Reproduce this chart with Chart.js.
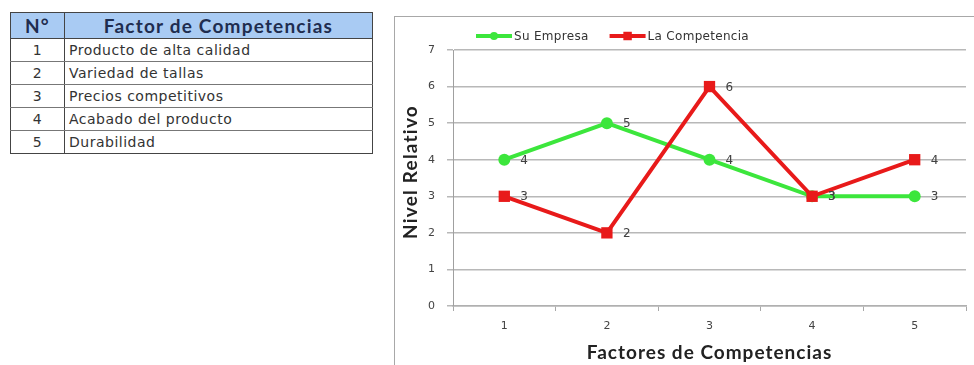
<!DOCTYPE html>
<html>
<head>
<meta charset="utf-8">
<script src="https://cdn.jsdelivr.net/npm/chart.js@4/dist/chart.umd.min.js"></script>
<style>
  html, body { margin: 0; padding: 0; background: #fff; width: 974px; height: 365px; overflow: hidden; }
  #factors {
    position: absolute; left: 10px; top: 12px;
    border-collapse: collapse; width: 363px;
    font-family: "DejaVu Sans", Verdana, sans-serif; font-size: 14px; letter-spacing: 0.5px; color: #333;
  }
  #factors th {
    background: #a9cbf3; color: #1f2d4f; height: 25px; padding: 0;
    font-family: Lato, "Open Sans", sans-serif; font-weight: bold; font-size: 19px; letter-spacing: 1.2px;
    border: 1px solid #444;
  }
  #factors td { height: 22px; padding: 0 0 0 4px; border-bottom: 1px solid #777; border-left: 1px solid #444; border-right: 1px solid #444; }
  #factors td.n { text-align: center; padding: 0; width: 53px; }
  #factors tr:last-child td { border-bottom: 1px solid #444; }
  #box { position: absolute; left: 394px; top: 16px; width: 640px; height: 420px; border: 1px solid #a8a8a8; }
  #chart { position: absolute; left: 0; top: 0; }
</style>
</head>
<body>
<table id="factors">
  <thead><tr><th>N°</th><th>Factor de Competencias</th></tr></thead>
  <tbody id="rows"></tbody>
</table>
<div id="box"><canvas id="chart" width="579" height="348"></canvas></div>
<script>
// Factors being compared and the two ratings per factor
const factorNames = ['Producto de alta calidad', 'Variedad de tallas', 'Precios competitivos', 'Acabado del producto', 'Durabilidad'];
const categories = ['1', '2', '3', '4', '5'];
const suEmpresa = [4, 5, 4, 3, 3];
const laCompetencia = [3, 2, 6, 3, 4];
const seriesNames = ['Su Empresa', 'La Competencia'];
const yTicks = [0, 1, 2, 3, 4, 5, 6, 7];
const xTitle = 'Factores de Competencias';
const yTitle = 'Nivel Relativo';

const GREEN = '#3ce63c';
const RED = '#e81a1a';

// Fill the factor table
const tbody = document.getElementById('rows');
categories.forEach((c, i) => {
  const tr = document.createElement('tr');
  tr.innerHTML = '<td class="n">' + c + '</td><td>' + factorNames[i] + '</td>';
  tbody.appendChild(tr);
});

// Value labels to the right of each point
const valueLabels = {
  id: 'valueLabels',
  afterDatasetsDraw(chart) {
    const ctx = chart.ctx;
    ctx.save();
    ctx.font = '12px "DejaVu Sans", sans-serif';
    ctx.fillStyle = '#404040';
    ctx.textAlign = 'left';
    ctx.textBaseline = 'middle';
    chart.data.datasets.forEach((ds, di) => {
      const meta = chart.getDatasetMeta(di);
      meta.data.forEach((pt, i) => {
        ctx.fillText(String(ds.data[i]), pt.x + 16, pt.y + 1);
      });
    });
    ctx.restore();
  }
};

// Legend: short line with the series marker in the middle, then the name
const lineLegend = {
  id: 'lineLegend',
  afterDraw(chart) {
    const ctx = chart.ctx;
    const y = 19;
    let x = chart.chartArea.left + 23;
    ctx.save();
    ctx.font = '12px "DejaVu Sans", sans-serif';
    ctx.letterSpacing = '0.3px';
    ctx.textBaseline = 'middle';
    ctx.textAlign = 'left';
    const items = [
      { name: seriesNames[0], color: GREEN, style: 'circle', r: 4 },
      { name: seriesNames[1], color: RED, style: 'rect', r: 6 }
    ];
    items.forEach(it => {
      ctx.strokeStyle = it.color;
      ctx.lineWidth = 4;
      ctx.beginPath();
      ctx.moveTo(x, y);
      ctx.lineTo(x + 36, y);
      ctx.stroke();
      ctx.fillStyle = it.color;
      Chart.helpers.drawPoint(ctx, { pointStyle: it.style, radius: it.r, borderWidth: 0 }, x + 18, y);
      ctx.fillStyle = '#333';
      ctx.fillText(it.name, x + 38, y + 1);
      x += 38 + ctx.measureText(it.name).width + 21;
    });
    ctx.restore();
  }
};

// Axis titles, drawn with a little letter spacing
const axisTitles = {
  id: 'axisTitles',
  afterDraw(chart) {
    const ctx = chart.ctx;
    const a = chart.chartArea;
    ctx.save();
    ctx.font = 'bold 19px Lato, sans-serif';
    ctx.letterSpacing = '1px';
    ctx.fillStyle = '#222';
    ctx.textAlign = 'center';
    ctx.textBaseline = 'middle';
    ctx.fillText(xTitle, (a.left + a.right) / 2, 336);
    ctx.translate(16, (a.top + a.bottom) / 2 - 6);
    ctx.rotate(-Math.PI / 2);
    ctx.letterSpacing = '1.2px';
    ctx.fillText(yTitle, 0, 0);
    ctx.restore();
  }
};

new Chart(document.getElementById('chart'), {
  type: 'line',
  data: {
    labels: categories,
    datasets: [
      {
        label: seriesNames[0], data: suEmpresa, order: 2,
        borderColor: GREEN, backgroundColor: GREEN, borderWidth: 4,
        pointStyle: 'circle', pointRadius: 6, pointBorderWidth: 0, pointBackgroundColor: GREEN,
        tension: 0, fill: false
      },
      {
        label: seriesNames[1], data: laCompetencia, order: 1,
        borderColor: RED, backgroundColor: RED, borderWidth: 4,
        pointStyle: 'rect', pointRadius: 8, pointBorderWidth: 0, pointBackgroundColor: RED,
        tension: 0, fill: false
      }
    ]
  },
  options: {
    responsive: false,
    animation: false,
    layout: { padding: { top: 33, right: 8, left: 0, bottom: 0 } },
    plugins: { legend: { display: false }, tooltip: { enabled: false } },
    scales: {
      x: {
        offset: true,
        grid: { display: true, offset: true, drawOnChartArea: false, drawTicks: true, tickLength: 5, color: '#a8a8a8' },
        border: { display: true, color: '#b0b0b0', width: 1.5 },
        ticks: { color: '#444', font: { family: '"DejaVu Sans", sans-serif', size: 11 }, padding: 9 },
        title: { display: false },
        afterFit(scale) { scale.height = 59; }
      },
      y: {
        min: 0, max: 7,
        afterBuildTicks(scale) { scale.ticks = yTicks.map(v => ({ value: v })); },
        grid: { color: '#b8b8b8', lineWidth: 1.5, drawTicks: true, tickLength: 6 },
        border: { display: true, color: '#a0a0a0', width: 1 },
        ticks: { color: '#444', font: { family: '"DejaVu Sans", sans-serif', size: 11 }, padding: 12 },
        title: { display: false },
        afterFit(scale) { scale.width = 58; }
      }
    }
  },
  plugins: [valueLabels, lineLegend, axisTitles]
});
</script>
</body>
</html>
